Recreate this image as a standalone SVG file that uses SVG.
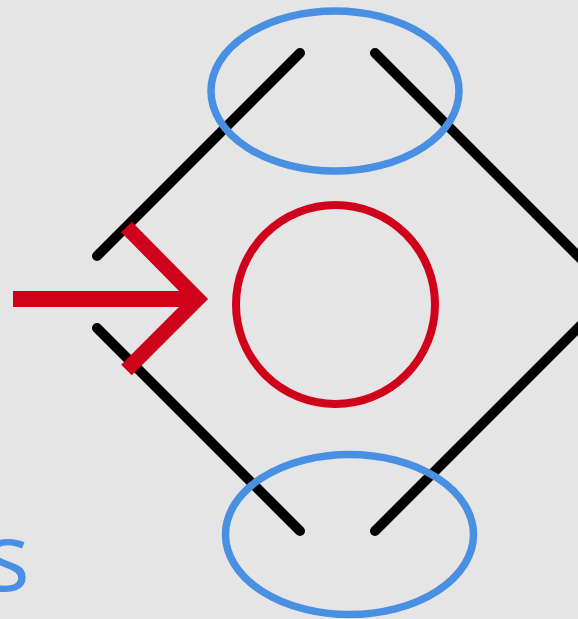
<svg xmlns="http://www.w3.org/2000/svg" width="578" height="619" viewBox="0 0 578 619">
<style>
.edge{fill:none;stroke:#000;stroke-width:10;stroke-linecap:round}
.blue{fill:none;stroke:#4a90e2;stroke-width:7.5}
.red{fill:none;stroke:#d0021b}
</style>
<rect width="578" height="619" fill="#e5e5e5"/>
<g id="connectors">
<line class="edge" x1="300" y1="53" x2="97" y2="256"/>
<line class="edge" x1="375" y1="53" x2="590" y2="268"/>
<line class="edge" x1="97" y1="328" x2="300" y2="531"/>
<line class="edge" x1="375" y1="531" x2="590" y2="316"/>
</g>
<g id="top-ellipse"><ellipse class="blue" cx="335" cy="91" rx="124" ry="80"/></g>
<g id="bottom-ellipse"><ellipse class="blue" cx="349.5" cy="534.5" rx="124" ry="80"/></g>
<g id="center-circle"><circle class="red" stroke-width="8" cx="335.5" cy="304.5" r="99.5"/></g>
<g id="arrow">
<line class="red" stroke-width="16" x1="13" y1="299" x2="198" y2="299"/>
<polyline class="red" stroke-width="15" stroke-linejoin="miter" points="126.5,227 197.5,299 126.5,370"/>
</g>
<g id="label"><text x="30" y="591" text-anchor="end" font-family="'Open Sans', sans-serif" font-size="96" fill="#4a90e2">s</text></g>
</svg>
